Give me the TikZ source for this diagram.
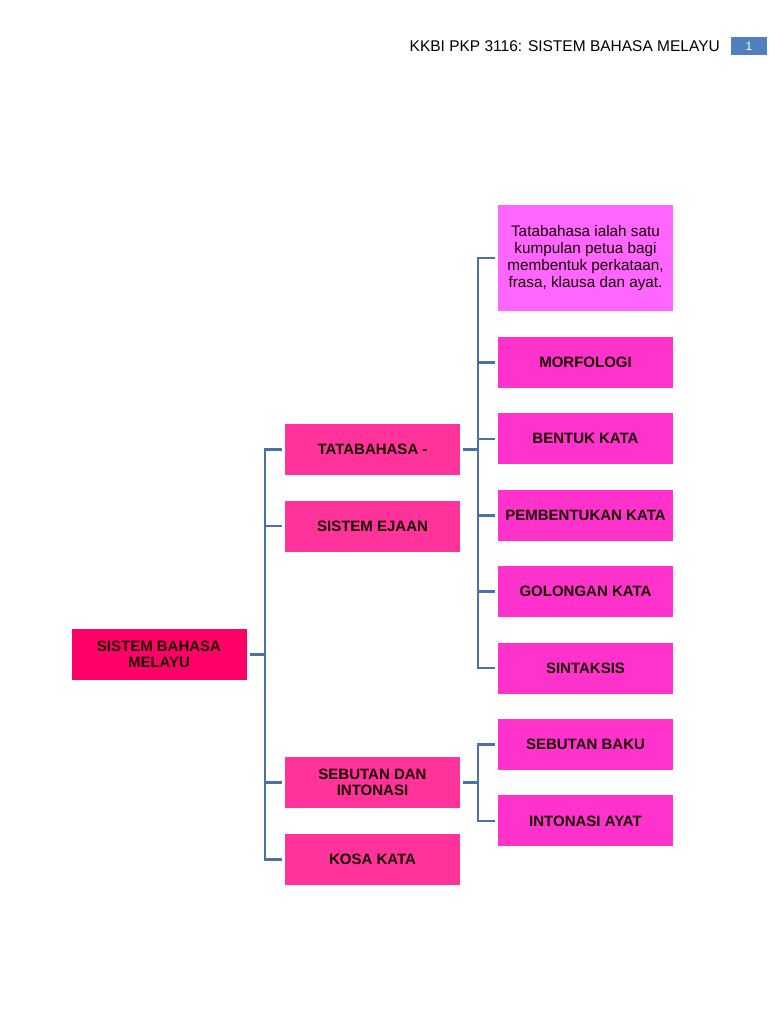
\documentclass[tikz,border=0pt]{standalone}
\usepackage{fontspec}
\setmainfont{Liberation Sans}
\usetikzlibrary{positioning}
\definecolor{rootpink}{HTML}{FF0066}
\definecolor{midpink}{HTML}{FF3399}
\definecolor{leafpink}{HTML}{FF33CC}
\definecolor{notepink}{HTML}{FF66FF}
\definecolor{linkblue}{HTML}{4A72A8}
\definecolor{pagebox}{HTML}{4F81BD}

\begin{document}
\begin{tikzpicture}[x=1pt, y=-1pt, node distance = 25pt,
  nodes = {minimum width=175pt, minimum height=51pt, align=center,
    text=black!90!red, inner sep=2pt},
  rootbox/.style = {fill=rootpink, font=\fontsize{15}{16.5}\selectfont\bfseries},
  midbox/.style = {fill=midpink, font=\fontsize{15}{16.5}\selectfont\bfseries},
  leafbox/.style = {fill=leafpink, font=\fontsize{15}{16.5}\selectfont\bfseries},
  notebox/.style = {fill=notepink, minimum height=106pt,
    font=\fontsize{15.3}{16.7}\selectfont},
  link/.style = {draw=linkblue, line width=2.5pt}
  ]
  \useasboundingbox (0,0) rectangle (768,1024);

  % header
  \node (title) [anchor=base east, minimum width=0pt, minimum height=0pt, inner sep=0pt,
    text=black, font=\fontsize{15.5}{16}\selectfont] at (720,52) {KKBI PKP 3116: SISTEM BAHASA MELAYU};
  \node (page) [fill=pagebox, minimum width=36pt, minimum height=18pt, inner sep=0pt,
    text=white, font=\fontsize{12}{12}\selectfont] at (749,46) {1};

  % root and first level
  \node (root) [rootbox] at (159,654.5) {SISTEM BAHASA\\MELAYU};
  \node (tata) [midbox] at (372.5,449.5) {TATABAHASA -};
  \node (ejaan) [midbox] at (372.5,526) {SISTEM EJAAN};
  \node (sebutan) [midbox] at (372.5,782.5) {SEBUTAN DAN\\INTONASI};
  \node (kosa) [midbox] at (372.5,859.5) {KOSA KATA};

  % second level
  \node (note) [notebox] at (585.5,258) {Tatabahasa ialah satu\\kumpulan petua bagi\\membentuk perkataan,\\frasa, klausa dan ayat.};
  \node (morf) [leafbox] at (585.5,362.5) {MORFOLOGI};
  \node (bentuk) [leafbox, below=of morf] {BENTUK KATA};
  \node (pembentukan) [leafbox, below=of bentuk] {PEMBENTUKAN KATA};
  \node (golongan) [leafbox, below=of pembentukan] {GOLONGAN KATA};
  \node (sintaksis) [leafbox, below=of golongan] {SINTAKSIS};
  \node (baku) [leafbox, below=of sintaksis] {SEBUTAN BAKU};
  \node (intonasi) [leafbox, below=of baku] {INTONASI AYAT};

  % connectors
  \coordinate (rootbar) at (265,0);
  \coordinate (tatabar) at (478,0);
  \draw[link] ([xshift=3pt]root.east) -- (root.east -| rootbar);
  \draw[link] ([xshift=-3pt]tata.west) -| (rootbar |- kosa.west) -- ([xshift=-3pt]kosa.west);
  \foreach \n in {ejaan,sebutan}
    \draw[link] (rootbar |- \n.west) -- ([xshift=-3pt]\n.west);

  \draw[link] ([xshift=3pt]tata.east) -- (tata.east -| tatabar);
  \draw[link] ([xshift=-3pt]note.west) -| (tatabar |- sintaksis.west) -- ([xshift=-3pt]sintaksis.west);
  \foreach \n in {morf,bentuk,pembentukan,golongan}
    \draw[link] (tatabar |- \n.west) -- ([xshift=-3pt]\n.west);

  \draw[link] ([xshift=3pt]sebutan.east) -- (sebutan.east -| tatabar);
  \draw[link] ([xshift=-3pt]baku.west) -| (tatabar |- intonasi.west) -- ([xshift=-3pt]intonasi.west);
\end{tikzpicture}
\end{document}
